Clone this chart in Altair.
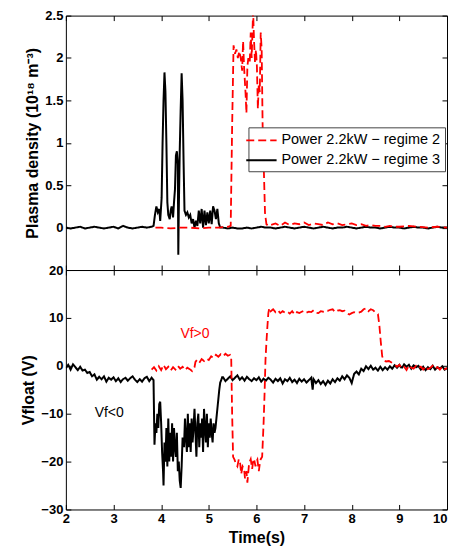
import altair as alt
import pandas as pd

R2 = "Power 2.2kW − regime 2"
R3 = "Power 2.2kW − regime 3"

# Plasma density (1e18 m^-3), regime 3 (black)
TOP_R3 = [(2.0,0.0),(2.1,-0.01),(2.2,0.0),(2.3,0.01),(2.4,-0.01),(2.5,0.0),(2.6,0.01),(2.7,0.0),(2.8,-0.01),(2.9,0.0),
          (3.0,0.01),(3.1,-0.01),(3.2,0.02),(3.3,0.0),(3.4,-0.01),(3.5,0.0),(3.6,0.01),(3.7,0.0),(3.8,0.01),(3.84,0.02),
          (3.87,0.15),(3.9,0.25),(3.93,0.18),(3.96,0.22),(3.98,0.08),(4.01,0.35),(4.03,1.0),(4.05,1.5),(4.07,1.83),(4.09,1.6),
          (4.11,1.0),(4.13,0.3),(4.15,0.15),(4.18,0.1),(4.2,0.2),(4.22,0.25),(4.25,0.12),(4.27,0.3),(4.29,0.45),(4.31,0.85),
          (4.33,0.9),(4.35,0.75),(4.36,-0.32),(4.37,0.2),(4.39,0.9),(4.41,1.4),(4.43,1.82),(4.45,1.5),(4.47,0.8),(4.49,0.2),
          (4.52,0.15),(4.55,0.18),(4.58,0.12),(4.61,0.15),(4.64,0.05),(4.67,0.1),(4.7,0.0),(4.73,0.08),(4.76,0.02),(4.79,0.2),
          (4.82,0.05),(4.85,0.22),(4.88,0.0),(4.91,0.2),(4.94,0.03),(4.97,0.18),(5.0,0.05),(5.03,0.2),(5.06,0.04),(5.09,0.25),
          (5.12,0.2),(5.15,0.1),(5.18,0.22),(5.21,0.05),(5.24,0.0),(5.3,0.0),(5.4,-0.01),(5.5,0.0),(5.6,-0.01),(5.7,-0.01),
          (5.8,0.0),(5.9,-0.01),(6.0,0.0),(6.1,0.01),(6.2,0.0),(6.3,0.0),(6.4,-0.01),(6.5,0.0),(6.6,0.01),(6.7,0.0),
          (6.8,-0.01),(6.9,0.0),(7.0,0.01),(7.1,0.0),(7.2,-0.01),(7.3,0.0),(7.4,0.01),(7.5,0.0),(7.6,-0.01),(7.7,0.0),
          (7.8,0.0),(7.9,0.01),(8.0,0.0),(8.1,-0.01),(8.2,0.0),(8.3,0.01),(8.4,0.0),(8.5,0.0),(8.6,-0.01),(8.7,0.0),
          (8.8,0.01),(8.9,0.0),(9.0,0.0),(9.1,-0.01),(9.2,0.0),(9.3,0.01),(9.4,0.0),(9.5,0.0),(9.6,-0.01),(9.7,0.0),
          (9.8,0.01),(9.9,0.0),(10.0,0.0)]

# Plasma density, regime 2 (red dashed)
TOP_R2 = [(3.88,0.0),(4.0,0.0),(4.2,-0.01),(4.4,0.0),(4.6,0.0),(4.8,-0.01),(5.0,0.0),(5.2,0.0),(5.4,0.01),(5.46,0.02),
          (5.49,1.2),(5.52,2.15),(5.55,2.05),(5.58,2.1),(5.61,2.0),(5.64,2.08),(5.67,2.0),(5.7,1.85),(5.72,2.2),(5.74,1.9),
          (5.77,1.6),(5.79,1.35),(5.81,1.9),(5.83,2.0),(5.86,1.95),(5.88,2.3),(5.9,2.0),(5.93,2.55),(5.95,2.2),(5.97,1.95),
          (5.99,2.1),(6.01,1.9),(6.03,1.4),(6.05,1.7),(6.07,1.6),(6.09,2.3),(6.11,2.1),(6.13,1.2),(6.15,0.8),(6.18,0.17),
          (6.21,0.04),(6.25,0.02),(6.3,0.03),(6.4,0.05),(6.5,0.02),(6.6,0.06),(6.7,0.03),(6.8,0.05),(6.9,0.04),(7.0,0.06),
          (7.1,0.03),(7.2,0.05),(7.3,0.04),(7.4,0.03),(7.5,0.06),(7.6,0.04),(7.7,0.05),(7.8,0.03),(7.9,0.04),(8.0,0.05),
          (8.1,0.03),(8.2,0.04),(8.3,0.02),(8.4,0.03),(8.5,0.02),(8.6,0.02),(8.7,0.01),(8.8,0.02),(8.9,0.01),(9.0,0.01),
          (9.2,0.02),(9.4,0.01),(9.6,0.0),(9.8,0.01),(10.0,0.0)]

# Floating potential (V), regime 3 (black)
BOT_R3 = [(2.0,-0.5),(2.05,0.2),(2.1,-0.8),(2.15,0.3),(2.2,-0.3),(2.25,-0.9),(2.3,-0.2),(2.35,-1.0),(2.4,-0.8),(2.45,-1.5),
          (2.5,-1.3),(2.55,-2.2),(2.6,-1.8),(2.65,-2.9),(2.7,-2.3),(2.75,-2.8),(2.8,-2.2),(2.85,-3.3),(2.9,-2.5),(2.95,-2.9),
          (3.0,-2.4),(3.05,-3.2),(3.1,-2.6),(3.15,-3.4),(3.2,-2.8),(3.25,-2.5),(3.3,-3.1),(3.35,-2.6),(3.4,-2.2),(3.45,-2.9),
          (3.5,-3.4),(3.55,-2.8),(3.6,-3.3),(3.65,-2.6),(3.7,-2.3),(3.75,-3.2),(3.8,-2.5),(3.84,-3.0),
          (3.86,-16.5),(3.88,-12.0),(3.9,-14.0),(3.92,-10.0),(3.94,-13.0),(3.96,-8.0),(3.98,-7.5),(4.0,-12.0),(4.02,-18.0),
          (4.04,-22.0),(4.05,-25.0),(4.07,-16.0),(4.09,-20.0),(4.11,-13.0),(4.13,-21.0),(4.15,-11.0),(4.17,-20.0),(4.19,-14.0),
          (4.21,-19.0),(4.23,-12.0),(4.25,-20.0),(4.27,-13.0),(4.29,-17.0),(4.31,-19.0),(4.33,-14.0),(4.35,-22.0),(4.37,-20.0),
          (4.39,-24.0),(4.41,-25.5),(4.43,-21.0),(4.45,-15.0),(4.48,-17.0),(4.5,-11.0),(4.52,-15.0),(4.54,-18.0),(4.56,-10.0),
          (4.58,-17.0),(4.6,-12.0),(4.62,-18.0),(4.64,-11.0),(4.66,-16.0),(4.68,-13.0),(4.7,-9.0),(4.72,-14.0),(4.74,-19.0),
          (4.76,-12.0),(4.78,-10.0),(4.8,-17.0),(4.82,-12.0),(4.84,-15.0),(4.86,-11.0),(4.88,-18.0),(4.9,-9.0),(4.92,-13.0),
          (4.94,-16.0),(4.96,-10.0),(4.98,-17.0),(5.0,-12.0),(5.02,-15.0),(5.04,-11.0),(5.06,-14.0),(5.08,-16.0),(5.1,-12.0),
          (5.12,-14.0),(5.14,-13.0),(5.16,-11.0),(5.18,-9.0),(5.2,-7.0),(5.22,-5.0),(5.24,-3.5),(5.26,-3.0),(5.28,-2.4),
          (5.3,-2.4),(5.35,-3.2),(5.4,-2.7),(5.45,-2.2),(5.5,-3.0),(5.55,-2.5),(5.6,-2.0),(5.65,-2.9),(5.7,-2.4),(5.75,-3.1),
          (5.8,-2.3),(5.85,-2.8),(5.9,-3.2),(5.95,-2.6),(6.0,-3.0),(6.05,-2.4),(6.1,-3.3),(6.15,-2.7),(6.2,-3.1),(6.25,-2.5),
          (6.3,-2.9),(6.35,-3.5),(6.4,-2.7),(6.45,-3.2),(6.5,-2.6),(6.55,-3.7),(6.6,-2.8),(6.65,-3.2),(6.7,-2.5),(6.75,-3.4),
          (6.8,-2.9),(6.85,-3.6),(6.9,-2.7),(6.95,-3.3),(7.0,-2.8),(7.05,-3.5),(7.1,-3.0),(7.15,-2.5),(7.18,-5.0),(7.2,-2.8),
          (7.25,-3.6),(7.3,-3.0),(7.35,-3.8),(7.4,-3.2),(7.45,-4.0),(7.5,-3.1),(7.55,-3.7),(7.6,-2.8),(7.65,-3.4),(7.7,-2.6),
          (7.75,-3.1),(7.8,-2.2),(7.85,-2.8),(7.9,-2.0),(7.95,-2.5),(8.0,-3.6),(8.05,-1.7),(8.1,-1.2),(8.15,-1.8),(8.2,-0.6),
          (8.25,-1.1),(8.3,-0.1),(8.35,-0.7),(8.4,0.0),(8.45,-0.8),(8.5,-0.4),(8.55,-1.0),(8.6,-0.2),(8.65,-0.9),(8.7,-0.3),
          (8.75,-0.8),(8.8,-0.1),(8.85,-0.6),(8.9,0.1),(8.95,-0.4),(9.0,0.2),(9.05,-0.5),(9.1,0.3),(9.15,-0.2),(9.2,0.2),
          (9.25,-0.6),(9.3,0.1),(9.35,-0.3),(9.4,0.0),(9.45,-0.8),(9.5,-0.2),(9.55,-0.9),(9.6,-0.3),(9.65,-0.7),(9.7,0.0),
          (9.75,-0.8),(9.8,-0.3),(9.85,-0.6),(9.9,-0.1),(9.95,-0.8),(10.0,-0.5)]

# Floating potential, regime 2 (red dashed)
BOT_R2 = [(3.8,-0.8),(3.85,-0.3),(3.9,-1.0),(3.95,-0.1),(4.0,-0.9),(4.05,0.2),(4.1,-0.7),(4.15,-0.2),(4.2,-1.0),(4.25,-0.3),
          (4.3,-0.8),(4.35,0.0),(4.4,-0.6),(4.45,-0.2),(4.5,-0.9),(4.55,-0.4),(4.6,-0.7),(4.65,-1.1),(4.7,-0.3),(4.72,0.8),
          (4.75,1.2),(4.8,0.6),(4.85,1.4),(4.9,1.0),(4.95,1.5),(5.0,1.2),(5.05,2.0),(5.1,1.6),(5.15,2.3),(5.2,1.9),
          (5.25,2.4),(5.3,2.0),(5.35,2.5),(5.4,2.1),(5.45,2.3),(5.47,1.9),(5.49,-10.0),(5.51,-19.0),(5.54,-19.6),(5.57,-20.5),
          (5.6,-21.0),(5.63,-19.5),(5.66,-20.5),(5.68,-22.6),(5.71,-21.0),(5.74,-21.5),(5.76,-23.5),(5.79,-22.0),(5.81,-24.4),(5.84,-21.0),
          (5.86,-20.0),(5.88,-19.5),(5.91,-21.5),(5.93,-20.0),(5.95,-19.4),(5.98,-21.0),(6.0,-20.0),(6.02,-19.6),(6.05,-22.0),(6.07,-20.5),
          (6.09,-19.5),(6.12,-19.0),(6.15,-12.0),(6.17,-6.0),(6.19,1.2),(6.21,5.0),(6.23,8.2),(6.25,11.0),(6.27,12.1),(6.3,11.4),
          (6.35,11.8),(6.4,11.2),(6.45,11.6),(6.5,11.0),(6.55,11.4),(6.6,11.1),(6.65,11.3),(6.7,10.9),(6.75,11.4),(6.8,10.7),
          (6.85,11.2),(6.9,11.0),(6.95,11.3),(7.0,11.5),(7.05,11.1),(7.1,11.3),(7.15,11.2),(7.2,11.6),(7.25,11.1),(7.3,11.0),
          (7.35,11.4),(7.4,11.3),(7.45,11.6),(7.5,11.5),(7.55,11.7),(7.6,11.8),(7.65,11.2),(7.7,11.5),(7.75,11.6),(7.8,11.4),
          (7.85,11.5),(7.9,11.0),(7.95,10.7),(8.0,11.0),(8.05,11.2),(8.1,11.0),(8.15,11.1),(8.2,11.3),(8.25,11.8),(8.3,12.0),
          (8.35,11.4),(8.4,11.8),(8.45,11.6),(8.5,11.1),(8.55,10.8),(8.58,8.5),(8.61,5.0),(8.64,2.0),(8.67,1.2),(8.72,0.9),
          (8.78,1.0),(8.85,0.6),(8.9,0.3),(8.95,-0.2),(9.0,0.2),(9.05,-0.5),(9.1,-0.2),(9.15,-0.9),(9.2,0.1),(9.25,-0.4),
          (9.3,-0.6),(9.35,0.0),(9.4,-0.5),(9.45,-0.2),(9.5,-0.8),(9.55,-0.1),(9.6,-0.7),(9.65,-0.4),(9.7,0.0),(9.75,-0.6),
          (9.8,-0.3),(9.85,-0.8),(9.9,-0.2),(9.95,-0.7),(10.0,-0.5)]

ANN_T = [4.71, 2.91]
ANN_V = [6.7, -9.8]
ANN_TEXT = ["Vf>0", "Vf<0"]
ANN_COLOR = ["#ff0000", "#000000"]

X_TICKS = [2, 3, 4, 5, 6, 7, 8, 9, 10]
TOP_TICKS = [0, 0.5, 1, 1.5, 2, 2.5]
BOT_TICKS = [-30, -20, -10, 0, 10, 20]


def frame(pairs, name):
    return pd.DataFrame({"t": [p[0] for p in pairs], "v": [p[1] for p in pairs], "series": name})


top_df = pd.concat([frame(TOP_R3, R3), frame(TOP_R2, R2)], ignore_index=True)
bot_df = pd.concat([frame(BOT_R3, R3), frame(BOT_R2, R2)], ignore_index=True)
ann_df = pd.DataFrame({"t": ANN_T, "v": ANN_V, "label": ANN_TEXT, "c": ANN_COLOR})

FONT = "Liberation Sans"
W = 382

xscale = alt.Scale(domain=[2, 10], nice=False, zero=False)
top_y = alt.Scale(domain=[-0.5, 2.5], nice=False, zero=False)
bot_y = alt.Scale(domain=[-30, 20], nice=False, zero=False)
color_scale = alt.Scale(domain=[R2, R3], range=["#ff0000", "#000000"])
dash_scale = alt.Scale(domain=[R2, R3], range=[[8, 4], [1, 0]])


def axis(orient, values, labels, title=None, fmt="~f", **extra):
    return alt.Axis(orient=orient, values=values, format=fmt, offset=-5, tickSize=5, tickWidth=1,
                    tickColor="black", domain=False, grid=False, labels=labels, title=title,
                    labelFont=FONT, labelFontSize=13, labelFontWeight="bold", labelColor="black",
                    labelPadding=3, titleFont=FONT, titleFontSize=16, titleFontWeight="bold",
                    titleColor="black", titlePadding=4, labelFlush=False, labelOverlap=False, **extra)


legend = alt.Legend(orient="none", legendX=183, legendY=112, title=None,
                    symbolType="M-1.9,0H1.9", symbolSize=256, symbolStrokeWidth=1.8,
                    symbolFillColor="transparent", labelFont=FONT, labelFontSize=14.5,
                    labelColor="black", strokeColor="#444444", fillColor="white", padding=4,
                    rowPadding=4, labelOffset=11, labelLimit=300)

x_label_align = {"condition": {"test": "datum.value >= 10", "value": "right"}, "value": "center"}


def panel(df, yscale, yticks, ytitle, show_x_labels, show_legend):
    base = alt.Chart(df)
    leg = legend if show_legend else None
    if show_x_labels:
        xaxis = axis("bottom", X_TICKS, True, "Time(s)", labelAlign=x_label_align)
    else:
        xaxis = axis("bottom", X_TICKS, False)
    black = base.transform_filter(alt.datum.series == R3).mark_line(strokeWidth=2, clip=True).encode(
        x=alt.X("t:Q", scale=xscale, axis=xaxis),
        y=alt.Y("v:Q", scale=yscale, axis=axis("left", yticks, True, ytitle)),
        color=alt.Color("series:N", scale=color_scale, legend=leg),
        strokeDash=alt.StrokeDash("series:N", scale=dash_scale, legend=leg),
    )
    red = base.transform_filter(alt.datum.series == R2).mark_line(strokeWidth=1.8, clip=True).encode(
        x=alt.X("t:Q", scale=xscale, axis=axis("top", X_TICKS, False)),
        y=alt.Y("v:Q", scale=yscale, axis=axis("right", yticks, False)),
        color=alt.Color("series:N", scale=color_scale, legend=leg),
        strokeDash=alt.StrokeDash("series:N", scale=dash_scale, legend=leg),
    )
    return [black, red]


top_layers = panel(top_df, top_y, TOP_TICKS, "Plasma density (10¹⁸ m⁻³)", False, True)
top = alt.layer(*top_layers).resolve_axis(x="independent", y="independent").properties(width=W, height=255)

bot_layers = panel(bot_df, bot_y, BOT_TICKS, "Vfloat (V)", True, False)
text = alt.Chart(ann_df).mark_text(font=FONT, fontSize=14).encode(
    x=alt.X("t:Q", scale=xscale, axis=None),
    y=alt.Y("v:Q", scale=bot_y, axis=None),
    text="label:N",
    color=alt.Color("c:N", scale=None),
)
bottom = alt.layer(*bot_layers, text).resolve_axis(x="independent", y="independent").properties(width=W, height=240)

chart = alt.vconcat(top, bottom, spacing=0, bounds="flush").resolve_legend(
    color="independent", strokeDash="independent"
).properties(
    padding={"left": 12, "top": 0, "right": 0, "bottom": 0}
).configure_view(stroke="black", strokeWidth=1)

chart.save("out.html", embed_options={"renderer": "svg", "actions": False})
